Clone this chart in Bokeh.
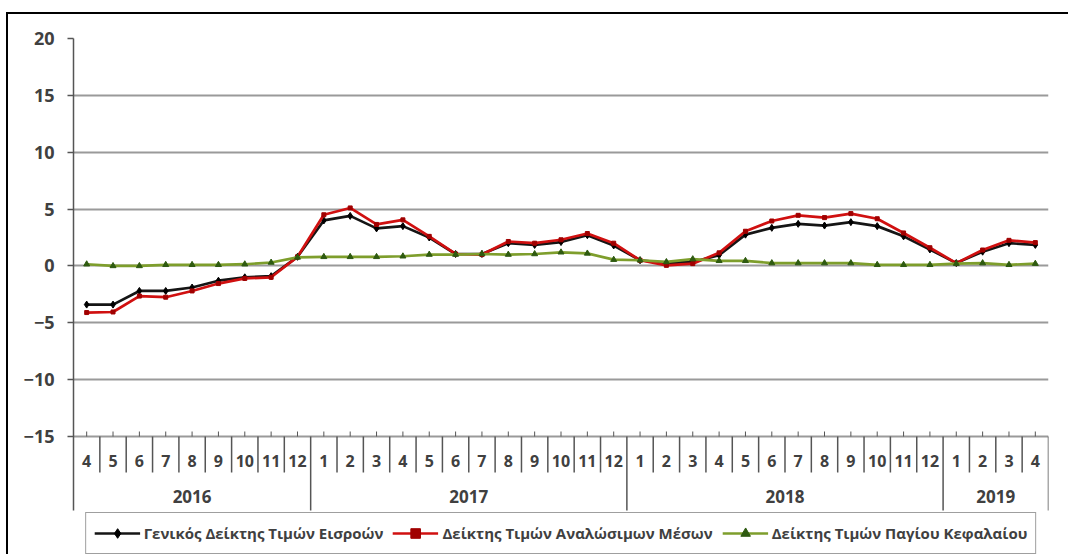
from bokeh.plotting import figure
from bokeh.models import (FactorRange, FixedTicker, Legend, LegendItem,
                          ColumnDataSource, Range1d)
from bokeh.core.properties import value
from bokeh.embed import file_html
from bokeh.resources import INLINE

# ---- data ----
years = ["2016"] * 9 + ["2017"] * 12 + ["2018"] * 12 + ["2019"] * 4
months = [str(m) for m in range(4, 13)] + [str(m) for m in range(1, 13)] * 2 + [str(m) for m in range(1, 5)]
year_labels = ["2016", "2017", "2018", "2019"]

general = [-3.4, -3.4, -2.2, -2.2, -1.9, -1.3, -1.0, -0.9, 0.8,
           4.0, 4.4, 3.3, 3.5, 2.5, 1.05, 1.05, 2.0, 1.85, 2.1, 2.7, 1.8,
           0.5, 0.25, 0.35, 0.95, 2.75, 3.35, 3.7, 3.55, 3.85, 3.5, 2.6, 1.45,
           0.25, 1.25, 2.0, 1.85]
consumables = [-4.1, -4.05, -2.65, -2.75, -2.2, -1.55, -1.1, -1.0, 0.8,
               4.5, 5.1, 3.65, 4.05, 2.6, 1.05, 1.0, 2.15, 2.0, 2.3, 2.85, 2.0,
               0.5, 0.05, 0.2, 1.15, 3.05, 3.95, 4.45, 4.25, 4.6, 4.15, 2.9, 1.6,
               0.25, 1.4, 2.25, 2.05]
capital = [0.15, 0.0, 0.0, 0.1, 0.1, 0.1, 0.15, 0.3, 0.75,
           0.8, 0.8, 0.8, 0.85, 1.0, 1.0, 1.05, 1.0, 1.05, 1.2, 1.1, 0.55,
           0.5, 0.35, 0.6, 0.45, 0.45, 0.25, 0.25, 0.25, 0.25, 0.1, 0.1, 0.1,
           0.2, 0.25, 0.1, 0.2]

names = ["Γενικός Δείκτης Τιμών Εισροών",
         "Δείκτης Τιμών Αναλώσιμων Μέσων",
         "Δείκτης Τιμών Παγίου Κεφαλαίου"]
y_ticks = [-15, -10, -5, 0, 5, 10, 15, 20]

FONT = "Open Sans"
TXT = "#404040"
AX = "#555555"

factors = list(zip(years, months))
src = ColumnDataSource(dict(x=factors, g=general, c=consumables, k=capital))

Y_MIN = y_ticks[0]
PX = 398 / 35.0                 # pixels per unit (layout helper)
Y_SEP = Y_MIN - 74 / PX         # bottom of the year separators
Y_BOTTOM = Y_MIN - 120 / PX     # bottom of the frame (room for legend)

p = figure(width=1062, height=542,
           x_range=FactorRange(*factors, factor_padding=0, group_padding=0, range_padding=0),
           y_range=Range1d(Y_BOTTOM, y_ticks[-1]),
           output_backend="svg", toolbar_location=None, x_axis_location=None,
           min_border_left=65, min_border_right=22, min_border_top=24, min_border_bottom=0)
p.styles = {"margin-left": "6px", "margin-top": "12px",
            "border-left": "2px solid black", "border-top": "2px solid black"}
p.outline_line_color = None
p.background_fill_color = "white"
p.border_fill_color = "white"

# y axis
p.yaxis.ticker = FixedTicker(ticks=y_ticks)
p.yaxis.bounds = (Y_SEP, y_ticks[-1])
p.yaxis.axis_line_color = AX
p.yaxis.axis_line_width = 1.5
p.yaxis.major_tick_line_color = AX
p.yaxis.major_tick_line_width = 1.5
p.yaxis.major_tick_out = 6
p.yaxis.major_tick_in = 0
p.yaxis.minor_tick_line_color = None
p.yaxis.major_label_text_font = FONT
p.yaxis.major_label_text_font_style = "bold"
p.yaxis.major_label_text_font_size = "18px"
p.yaxis.major_label_text_color = TXT
p.yaxis.major_label_standoff = 13

p.ygrid.ticker = FixedTicker(ticks=y_ticks)
p.ygrid.grid_line_color = "#9a9a9a"
p.ygrid.grid_line_width = 2
p.xgrid.grid_line_color = None

# category axis drawn in the band below y = -15
n = len(factors)
p.segment(x0=factors, x1=factors, y0=[Y_MIN] * n, y1=[Y_MIN + 5 / PX] * n,
          line_color=AX, line_width=1)

bounds = list(range(1, n + 1))
year_bounds = [i for i in bounds if i == n or years[i] != years[i - 1]]
month_bounds = [i for i in bounds if i not in year_bounds]
p.segment(x0=month_bounds, x1=month_bounds, y0=[Y_MIN] * len(month_bounds),
          y1=[Y_MIN - 36 / PX] * len(month_bounds), line_color=AX, line_width=1.5)
p.segment(x0=year_bounds, x1=year_bounds, y0=[Y_MIN] * len(year_bounds),
          y1=[Y_SEP] * len(year_bounds), line_color=AX, line_width=1.5)

p.text(x=factors, y=[Y_MIN - 24 / PX] * n, text=months,
       text_font=value(FONT), text_font_style="bold", text_font_size="16px",
       text_color=TXT, text_align="center", text_baseline="middle")
p.text(x=year_labels, y=[Y_MIN - 60 / PX] * len(year_labels), text=year_labels,
       text_font=value(FONT), text_font_style="bold", text_font_size="17px",
       text_color=TXT, text_align="center", text_baseline="middle")

# series
colors = ["#151515", "#d01010", "#7e9e2c"]
mcolors = ["#000000", "#a00000", "#2e5a10"]
markers = ["diamond", "square", "triangle"]
msizes = [7, 4, 6]
cols = ["g", "c", "k"]
items = []
for name, col, lc, mc, mk, ms in zip(names, cols, colors, mcolors, markers, msizes):
    lr = p.line("x", col, source=src, line_color=lc, line_width=2.7)
    sr = p.scatter("x", col, source=src, marker=mk, size=ms, fill_color=mc, line_color=mc)
    items.append(LegendItem(label=name, renderers=[lr, sr]))

legend = Legend(items=items, orientation="horizontal", location="bottom_center",
                label_text_font=FONT, label_text_font_style="bold",
                label_text_font_size="15px", label_text_color=TXT,
                glyph_width=46, label_height=24, glyph_height=24,
                label_standoff=4, spacing=9, padding=8, margin=2,
                border_line_color="#404040", border_line_width=1.5,
                background_fill_color="white", background_fill_alpha=1)
p.add_layout(legend)

open("out.html", "w").write(file_html(p, INLINE))
